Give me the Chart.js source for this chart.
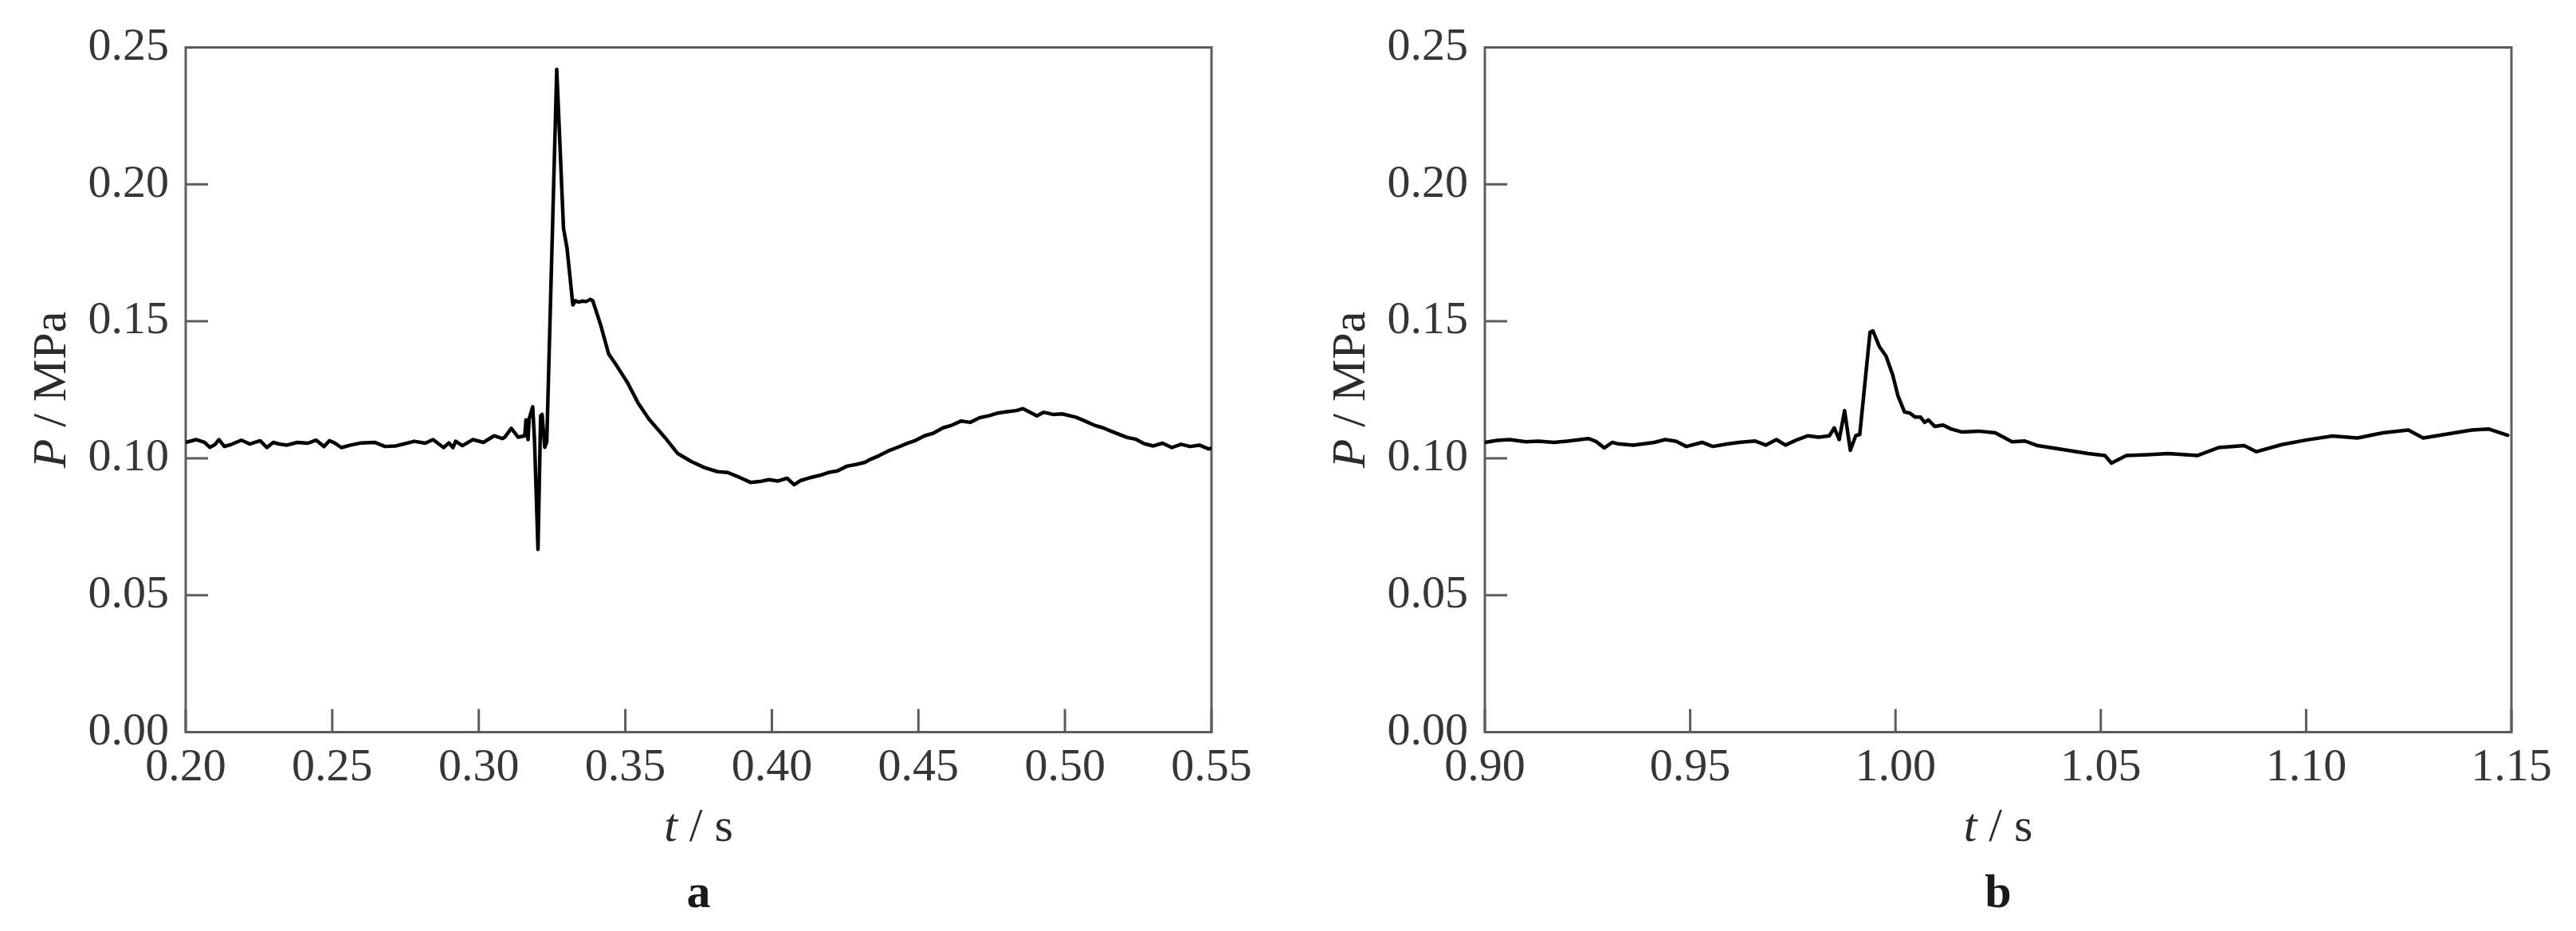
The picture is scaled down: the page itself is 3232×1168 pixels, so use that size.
<!DOCTYPE html>
<html>
<head>
<meta charset="utf-8">
<script src="https://cdn.jsdelivr.net/npm/chart.js@4.4.1/dist/chart.umd.min.js"></script>
<style>
  html, body { margin: 0; padding: 0; background: #fff; }
  #wrap { position: relative; width: 3232px; height: 1168px; overflow: hidden; }
  .panel { position: absolute; top: 0; width: 1616px; height: 1168px; }
</style>
</head>
<body>
<div id="wrap">
  <div class="panel" style="left:0"><canvas id="cA" width="1616" height="1168"></canvas></div>
  <div class="panel" style="left:1616px"><canvas id="cB" width="1616" height="1168"></canvas></div>
</div>
<script>
// ---------- data ----------
const yTicks = [0.00, 0.05, 0.10, 0.15, 0.20, 0.25];
const xTicksA = [0.20, 0.25, 0.30, 0.35, 0.40, 0.45, 0.50, 0.55];
const xTicksB = [0.90, 0.95, 1.00, 1.05, 1.10, 1.15];
const panelLabels = ['a', 'b'];

const tA = [
  0.2000, 0.2036, 0.2064, 0.2082, 0.2100, 0.2113, 0.2132, 0.2154, 0.2190, 0.2218,
  0.2254, 0.2277, 0.2299, 0.2318, 0.2345, 0.2381, 0.2417, 0.2445, 0.2472, 0.2490,
  0.2508, 0.2531, 0.2563, 0.2599, 0.2644, 0.2680, 0.2717, 0.2744, 0.2780, 0.2817,
  0.2844, 0.2880, 0.2898, 0.2912, 0.2921, 0.2944, 0.2980, 0.3016, 0.3052, 0.3080,
  0.3089, 0.3111, 0.3134, 0.3157, 0.3161, 0.3168, 0.3172, 0.3184, 0.3190, 0.3202,
  0.3211, 0.3216, 0.3225, 0.3232, 0.3266, 0.3289, 0.3301, 0.3321, 0.3330, 0.3340,
  0.3353, 0.3366, 0.3380, 0.3389, 0.3416, 0.3443, 0.3471, 0.3507, 0.3543, 0.3580,
  0.3634, 0.3679, 0.3725, 0.3770, 0.3815, 0.3849, 0.3890, 0.3927, 0.3959, 0.3990,
  0.4021, 0.4052, 0.4076, 0.4099, 0.4130, 0.4162, 0.4193, 0.4224, 0.4256, 0.4287,
  0.4318, 0.4334, 0.4365, 0.4396, 0.4427, 0.4459, 0.4490, 0.4521, 0.4552, 0.4584,
  0.4615, 0.4646, 0.4677, 0.4709, 0.4740, 0.4771, 0.4802, 0.4834, 0.4857, 0.4881,
  0.4904, 0.4927, 0.4959, 0.4990, 0.5037, 0.5068, 0.5099, 0.5130, 0.5162, 0.5209,
  0.5240, 0.5271, 0.5302, 0.5333, 0.5365, 0.5396, 0.5427, 0.5459, 0.5490, 0.5500
];
const pA = [
  0.1058, 0.1068, 0.1058, 0.1040, 0.1050, 0.1068, 0.1043, 0.1050, 0.1066, 0.1052,
  0.1064, 0.1039, 0.1058, 0.1052, 0.1048, 0.1058, 0.1055, 0.1066, 0.1043, 0.1064,
  0.1056, 0.1039, 0.1048, 0.1056, 0.1058, 0.1043, 0.1045, 0.1052, 0.1062, 0.1055,
  0.1068, 0.1039, 0.1056, 0.1039, 0.1062, 0.1046, 0.1068, 0.1058, 0.1082, 0.1072,
  0.1077, 0.1109, 0.1077, 0.1082, 0.1140, 0.1068, 0.1145, 0.1188, 0.1068, 0.0667,
  0.1155, 0.1160, 0.1040, 0.1060, 0.2420, 0.1840, 0.1768, 0.1560, 0.1575, 0.1570,
  0.1574, 0.1572, 0.1580, 0.1575, 0.1486, 0.1381, 0.1337, 0.1277, 0.1203, 0.1144,
  0.1077, 0.1017, 0.0988, 0.0966, 0.0951, 0.0948, 0.0930, 0.0912, 0.0915, 0.0922,
  0.0917, 0.0927, 0.0903, 0.0919, 0.0929, 0.0937, 0.0948, 0.0954, 0.0971, 0.0977,
  0.0985, 0.0995, 0.1009, 0.1026, 0.1039, 0.1053, 0.1065, 0.1082, 0.1092, 0.1111,
  0.1121, 0.1136, 0.1131, 0.1148, 0.1155, 0.1165, 0.1170, 0.1174, 0.1181, 0.1168,
  0.1155, 0.1168, 0.1160, 0.1162, 0.1150, 0.1136, 0.1121, 0.1111, 0.1097, 0.1077,
  0.1070, 0.1053, 0.1045, 0.1055, 0.1039, 0.1051, 0.1043, 0.1048, 0.1034, 0.1036
];

const tB = [
  0.9000, 0.9030, 0.9060, 0.9100, 0.9130, 0.9168, 0.9200, 0.9252, 0.9270, 0.9291,
  0.9310, 0.9323, 0.9362, 0.9413, 0.9439, 0.9465, 0.9491, 0.9529, 0.9555, 0.9590,
  0.9619, 0.9658, 0.9684, 0.9710, 0.9732, 0.9761, 0.9787, 0.9813, 0.9839, 0.9851,
  0.9863, 0.9876, 0.9890, 0.9903, 0.9913, 0.9938, 0.9945, 0.9961, 0.9977, 0.9993,
  1.0006, 1.0022, 1.0035, 1.0048, 1.0061, 1.0071, 1.0080, 1.0096, 1.0116, 1.0135,
  1.0161, 1.0202, 1.0243, 1.0284, 1.0315, 1.0346, 1.0408, 1.0469, 1.0510, 1.0526,
  1.0562, 1.0613, 1.0664, 1.0736, 1.0787, 1.0849, 1.0879, 1.0941, 1.1002, 1.1064,
  1.1125, 1.1187, 1.1249, 1.1285, 1.1341, 1.1403, 1.1444, 1.1491
];
const pB = [
  0.1058, 0.1065, 0.1068, 0.1060, 0.1062, 0.1058, 0.1062, 0.1072, 0.1062, 0.1038,
  0.1058, 0.1053, 0.1048, 0.1058, 0.1068, 0.1062, 0.1043, 0.1058, 0.1043, 0.1052,
  0.1058, 0.1063, 0.1048, 0.1068, 0.1048, 0.1068, 0.1082, 0.1077, 0.1082, 0.1111,
  0.1068, 0.1174, 0.1029, 0.1082, 0.1087, 0.1460, 0.1465, 0.1407, 0.1373, 0.1305,
  0.1228, 0.1169, 0.1165, 0.1150, 0.1150, 0.1131, 0.1140, 0.1116, 0.1121, 0.1107,
  0.1096, 0.1099, 0.1093, 0.1060, 0.1063, 0.1046, 0.1032, 0.1017, 0.1010, 0.0982,
  0.1010, 0.1013, 0.1017, 0.1010, 0.1039, 0.1046, 0.1024, 0.1050, 0.1067, 0.1081,
  0.1074, 0.1093, 0.1103, 0.1074, 0.1088, 0.1103, 0.1107, 0.1084
];

// ---------- styling / helpers ----------
const SERIF = '"Liberation Serif", "Times New Roman", serif';
const TICK_COLOR = '#363636';
const FRAME_COLOR = '#5c5c5c';

function drawMixed(ctx, parts, cx, baseY) {
  let total = 0;
  parts.forEach(p => { ctx.font = p.font; p.w = ctx.measureText(p.text).width; total += p.w; });
  let x = cx - total / 2;
  ctx.textAlign = 'left';
  ctx.textBaseline = 'alphabetic';
  parts.forEach(p => { ctx.font = p.font; ctx.fillText(p.text, x, baseY); x += p.w; });
}

const framePlugin = {
  id: 'frameAndTitles',
  beforeDatasetsDraw(chart) {
    const {ctx, chartArea: a, scales: {x, y}} = chart;
    ctx.save();
    ctx.strokeStyle = FRAME_COLOR;
    ctx.lineWidth = 3;
    ctx.strokeRect(a.left, a.top, a.right - a.left, a.bottom - a.top);
    ctx.beginPath();
    y.ticks.forEach(tk => {
      const py = y.getPixelForValue(tk.value);
      ctx.moveTo(a.left, py); ctx.lineTo(a.left + 28, py);
    });
    x.ticks.forEach(tk => {
      const px = x.getPixelForValue(tk.value);
      ctx.moveTo(px, a.bottom); ctx.lineTo(px, a.bottom - 29);
    });
    ctx.stroke();
    ctx.restore();
  },
  afterDraw(chart, args, opts) {
    const {ctx, chartArea: a} = chart;
    const cx = (a.left + a.right) / 2;
    const cy = (a.top + a.bottom) / 2;
    ctx.save();
    ctx.fillStyle = '#2b2b2b';
    // y-axis title: "P / MPa" with italic P
    ctx.save();
    ctx.translate(a.left - 151, cy);
    ctx.rotate(-Math.PI / 2);
    drawMixed(ctx, [
      {text: 'P', font: 'italic 60px ' + SERIF},
      {text: ' / MPa', font: '60px ' + SERIF}
    ], 0, 0);
    ctx.restore();
    // x-axis title: "t / s" with italic t
    drawMixed(ctx, [
      {text: 't', font: 'italic 60px ' + SERIF},
      {text: ' / s', font: '60px ' + SERIF}
    ], cx, 1055);
    // panel label
    ctx.fillStyle = '#1a1a1a';
    drawMixed(ctx, [{text: opts.label, font: 'bold 60px ' + SERIF}], cx, 1138);
    ctx.restore();
  }
};

function makeChart(id, ts, ps, xTicks, label, leftW, rightPad) {
  const pts = ts.map((t, i) => ({x: t, y: ps[i]}));
  return new Chart(document.getElementById(id), {
    type: 'line',
    data: {
      datasets: [{
        data: pts,
        borderColor: '#000',
        borderWidth: 4.5,
        pointRadius: 0,
        tension: 0,
        fill: false,
        borderJoinStyle: 'round',
        borderCapStyle: 'round'
      }]
    },
    options: {
      responsive: false,
      devicePixelRatio: 1,
      animation: false,
      layout: {padding: {left: 0, right: rightPad, top: 59.5, bottom: 0}},
      plugins: {
        legend: {display: false},
        tooltip: {enabled: false},
        title: {display: false},
        frameAndTitles: {label: label}
      },
      scales: {
        x: {
          type: 'linear',
          min: xTicks[0],
          max: xTicks[xTicks.length - 1],
          afterBuildTicks: s => { s.ticks = xTicks.map(v => ({value: v})); },
          afterFit: s => { s.height = 249.5; },
          grid: {display: false, drawTicks: false},
          border: {display: false},
          ticks: {
            autoSkip: false, maxRotation: 0, minRotation: 0, padding: 10,
            color: TICK_COLOR,
            font: {family: SERIF, size: 58},
            callback: v => Number(v).toFixed(2)
          }
        },
        y: {
          type: 'linear',
          min: yTicks[0],
          max: yTicks[yTicks.length - 1],
          afterBuildTicks: s => { s.ticks = yTicks.map(v => ({value: v})); },
          afterFit: s => { s.width = leftW; },
          grid: {display: false, drawTicks: false},
          border: {display: false},
          ticks: {
            padding: 21,
            color: TICK_COLOR,
            font: {family: SERIF, size: 58},
            callback: v => Number(v).toFixed(2)
          }
        }
      }
    },
    plugins: [framePlugin]
  });
}

makeChart('cA', tA, pA, xTicksA, panelLabels[0], 233, 96);
makeChart('cB', tB, pB, xTicksB, panelLabels[1], 247, 81);
</script>
</body>
</html>
